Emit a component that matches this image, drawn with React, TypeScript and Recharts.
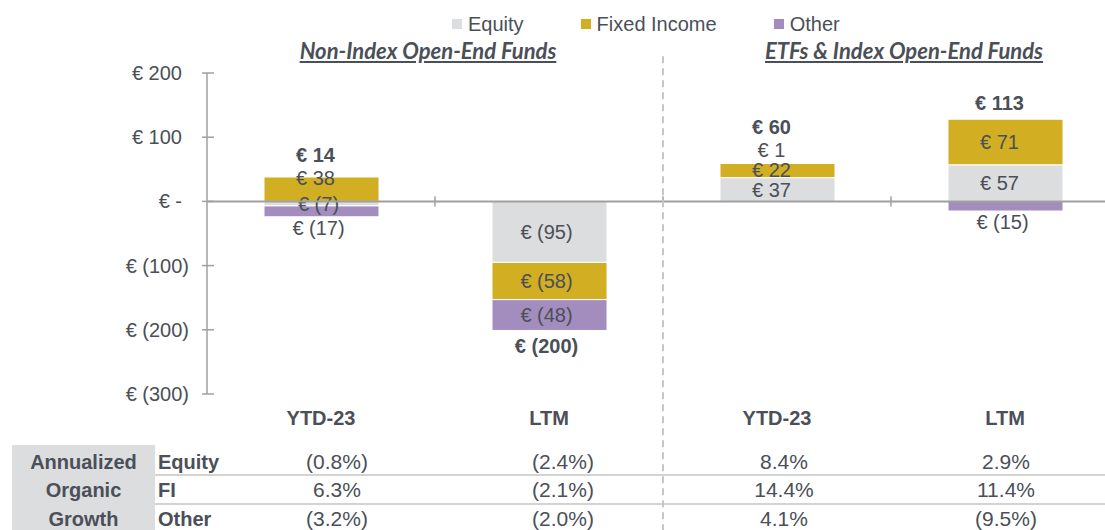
import React from 'react';
import { BarChart, Bar, XAxis, YAxis, ReferenceLine } from 'recharts';

const periods = ['YTD-23', 'LTM', 'YTD-23', 'LTM'];
const equity = [-7, -95, 37, 57];
const fixedIncome = [38, -58, 22, 71];
const other = [-17, -48, 1, -15];
const totals = [14, -200, 60, 113];

const seriesKeys = ['equity', 'fi', 'other'];
const seriesNames = ['Equity', 'Fixed Income', 'Other'];
const seriesColors = ['#DCDDDF', '#D1AE22', '#A38DBE'];
const groupTitles = ['Non-Index Open-End Funds', 'ETFs & Index Open-End Funds'];

const growthHeader = ['Annualized', 'Organic', 'Growth'];
const growthLabels = ['Equity', 'FI', 'Other'];
const equityGrowth = ['(0.8%)', '(2.4%)', '8.4%', '2.9%'];
const fiGrowth = ['6.3%', '(2.1%)', '14.4%', '11.4%'];
const otherGrowth = ['(3.2%)', '(2.0%)', '4.1%', '(9.5%)'];

const yTicks = [-300, -200, -100, 0, 100, 200];

const TEXT = '#4B4F58';
const AXIS = '#A0A0A0';
const FONT = '"Liberation Sans", Arial, sans-serif';

const sum = (vals: number[]) => vals.reduce((a, b) => a + b, 0);

const data = periods.map((period, i) => {
  const vals = [equity[i], fixedIncome[i], other[i]];
  return {
    pos: i + 0.5,
    period,
    equity: equity[i],
    fi: fixedIncome[i],
    other: other[i],
    total: totals[i],
    extent: [sum(vals.filter((v) => v < 0)), sum(vals.filter((v) => v > 0))],
  };
});

const fmtEuro = (v: number) => (v < 0 ? `€ (${Math.abs(v)})` : `€ ${v}`);
const fmtAxis = (v: number) => (v === 0 ? '€ -' : fmtEuro(v));

function YTick({ x, y, payload }: any) {
  const v = payload.value;
  const axisX = x + 18;
  return (
    <g>
      <line x1={axisX - 5} x2={axisX + 7} y1={y} y2={y} stroke={AXIS} strokeWidth={1.5} />
      <text x={v < 0 ? x : x - 7} y={y} textAnchor="end" dominantBaseline="central"
        fontSize={20} fontFamily={FONT} fill={TEXT}>
        {fmtAxis(v)}
      </text>
    </g>
  );
}

// draws segment + total labels for one stacked bar; the invisible extent bar
// gives the pixel span so the value -> pixel mapping comes from the y scale
function StackLabels(props: any) {
  const { x, y, width, height, index } = props;
  const row = data[index];
  if (!row) return null;
  const [lo, hi] = row.extent;
  const top = Math.min(y, y + height);
  const bottom = Math.max(y, y + height);
  const ppu = (bottom - top) / (hi - lo);
  const zeroY = top + hi * ppu;
  const cx = x + width / 2;

  let posAcc = 0;
  let negAcc = 0;
  const segs = [row.equity, row.fi, row.other].map((v) => {
    const start = v >= 0 ? posAcc : negAcc;
    const end = start + v;
    if (v >= 0) posAcc = end;
    else negAcc = end;
    const y0 = zeroY - start * ppu;
    const y1 = zeroY - end * ppu;
    return { v, y0, y1, ly: (y0 + y1) / 2 };
  });

  // thin outer segments get their label just past the bar end
  [1, -1].forEach((sign) => {
    const side = segs.filter((s) => Math.sign(s.v) === sign);
    const last = side[side.length - 1];
    if (last && Math.abs(last.y1 - last.y0) < 18) last.ly = last.y1 - sign * 11;
  });

  // push overlapping labels upward, with more room across the zero line
  const sorted = [...segs].sort((a, b) => a.ly - b.ly);
  for (let i = sorted.length - 2; i >= 0; i--) {
    const gap = Math.sign(sorted[i].v) !== Math.sign(sorted[i + 1].v) ? 26 : 20;
    if (sorted[i].ly > sorted[i + 1].ly - gap) sorted[i].ly = sorted[i + 1].ly - gap;
  }

  const t = row.total;
  const ty = t >= 0
    ? Math.min(top - 16, sorted[0].ly - 23)
    : Math.max(bottom + 16, sorted[sorted.length - 1].ly + 23);

  return (
    <g fontFamily={FONT} fontSize={20} fill={TEXT}>
      {segs.map((s, k) => (
        <text key={k} x={cx + (s.v >= 0 ? -6 : -3)} y={s.ly} textAnchor="middle" dominantBaseline="central">
          {fmtEuro(s.v)}
        </text>
      ))}
      <text x={cx + (t >= 0 ? -6 : -3)} y={ty} textAnchor="middle" dominantBaseline="central" fontWeight="bold">
        {fmtEuro(t)}
      </text>
    </g>
  );
}

const titleCenters = [428, 904];
const valueCenters = [337, 563, 784, 1006];
const rowCenters = [462, 490, 519];
const growthValues = [equityGrowth, fiGrowth, otherGrowth];

export default function App() {
  return (
    <div style={{ position: 'absolute', left: 0, top: 0, width: 1105, height: 530, overflow: 'hidden',
      background: '#fff', fontFamily: FONT, color: TEXT }}>
      {/* growth table */}
      <div style={{ position: 'absolute', left: 12, top: 445, width: 143, height: 85, background: '#DCDDDF' }} />
      {[474, 503].map((top) => (
        <div key={top} style={{ position: 'absolute', left: 155, right: 0, top, height: 2, background: '#D3D3D3' }} />
      ))}
      {rowCenters.map((cy, r) => (
        <React.Fragment key={r}>
          <div style={{ position: 'absolute', left: 12, width: 143, top: cy - 10, height: 20, lineHeight: '20px',
            textAlign: 'center', fontWeight: 'bold', fontSize: 20 }}>{growthHeader[r]}</div>
          <div style={{ position: 'absolute', left: 158, top: cy - 10, height: 20, lineHeight: '20px',
            fontWeight: 'bold', fontSize: 20 }}>{growthLabels[r]}</div>
          {growthValues[r].map((v, c) => (
            <div key={c} style={{ position: 'absolute', left: valueCenters[c] - 60, width: 120, top: cy - 10,
              height: 20, lineHeight: '20px', textAlign: 'center', fontSize: 21 }}>{v}</div>
          ))}
        </React.Fragment>
      ))}

      <div style={{ position: 'absolute', left: 0, top: 0 }}>
        <BarChart width={1119} height={530} data={data} stackOffset="sign"
          margin={{ top: 73, right: 0, bottom: 0, left: 0 }}>
          <XAxis dataKey="pos" type="number" domain={[0, 4]} ticks={[0.5, 1.5, 2.5, 3.5]} interval={0}
            tickFormatter={(v: number) => periods[Math.floor(v)]} height={136} axisLine={false}
            tickLine={false} tickSize={0} tickMargin={17}
            tick={{ fill: TEXT, fontSize: 20, fontWeight: 'bold', fontFamily: FONT }} />
          <XAxis xAxisId="ext" dataKey="pos" type="number" domain={[0, 4]} hide />
          <YAxis domain={[-300, 200]} ticks={yTicks} interval={0} width={207}
            axisLine={{ stroke: AXIS, strokeWidth: 1.5 }} tickLine={false} tickSize={0} tickMargin={18}
            tick={<YTick />} />
          {seriesKeys.map((k, i) => (
            <Bar key={k} dataKey={k} name={seriesNames[i]} stackId="flows" fill={seriesColors[i]}
              stroke="#fff" strokeWidth={1} barSize={115} isAnimationActive={false} />
          ))}
          <ReferenceLine y={0} stroke={AXIS} strokeWidth={2} />
          {[1, 2, 3].map((b) => (
            <ReferenceLine key={b} segment={[{ x: b, y: -8 }, { x: b, y: 8 }]} stroke={AXIS} strokeWidth={1.5} />
          ))}
          <ReferenceLine segment={[{ x: 2, y: 226 }, { x: 2, y: -520 }]} ifOverflow="visible"
            stroke="#C6C6C6" strokeWidth={2} strokeDasharray="7 5" />
          <Bar xAxisId="ext" dataKey="extent" barSize={115} fill="transparent"
            shape={(p: any) => <StackLabels {...p} />} isAnimationActive={false} />
        </BarChart>
      </div>

      {/* legend */}
      <div style={{ position: 'absolute', left: 452, top: 12, display: 'flex', gap: 57, fontSize: 20, lineHeight: '24px' }}>
        {seriesNames.map((n, i) => (
          <div key={n} style={{ display: 'flex', alignItems: 'center' }}>
            <span style={{ width: 10, height: 10, background: seriesColors[i], marginRight: 6 }} />
            <span>{n}</span>
          </div>
        ))}
      </div>

      {/* group titles */}
      {groupTitles.map((t, i) => (
        <div key={t} style={{ position: 'absolute', left: titleCenters[i] - 200, width: 400, top: 38,
          lineHeight: '26px', textAlign: 'center', fontFamily: 'Lato, "Open Sans", sans-serif',
          fontWeight: 'bold', fontStyle: 'italic', fontSize: 22, textDecoration: 'underline' }}>{t}</div>
      ))}
    </div>
  );
}
